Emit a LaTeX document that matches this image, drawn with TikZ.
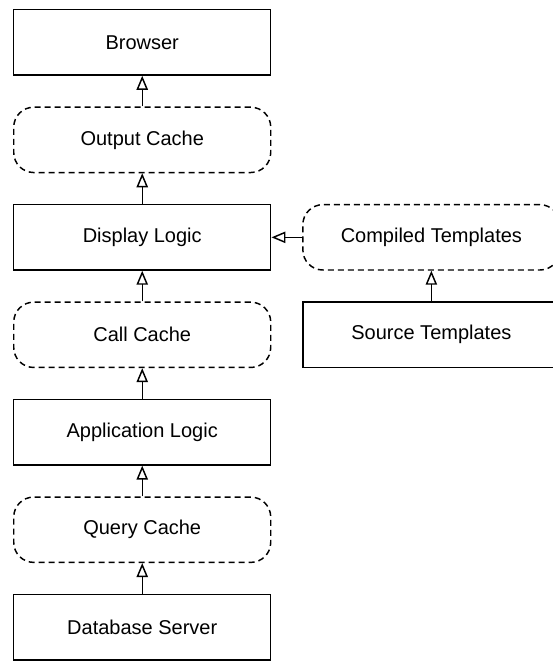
\documentclass[tikz,border=0pt]{standalone}
\usepackage{fontspec}
\setmainfont{Liberation Sans}
\usetikzlibrary{arrows.meta,positioning}

\begin{document}
\begin{tikzpicture}[node distance=23pt and 23pt,
    layer/.style={draw,line width=1.1pt,minimum width=192.75pt,minimum height=49pt,
                  inner sep=0pt,font=\fontsize{15}{18}\selectfont},
    cache/.style={layer,dash pattern=on 4.5pt off 3pt,rounded corners=15pt},
    feed/.style={line width=1.1pt,-{Triangle[open,length=10.5pt,width=8.5pt]}}]
    \useasboundingbox (0,0) rectangle (414.75pt,-495.75pt);
    \clip (0,0) rectangle (414.75pt,-495.75pt);
    \node[layer,anchor=north west] (browser) at (9.75pt,-6.75pt) {Browser};
    \node[cache,below=of browser] (outcache) {Output Cache};
    \node[layer,below=of outcache] (display) {Display Logic};
    \node[cache,below=of display] (callcache) {Call Cache};
    \node[layer,below=of callcache] (applogic) {Application Logic};
    \node[cache,below=of applogic] (querycache) {Query Cache};
    \node[layer,below=of querycache] (dbserver) {Database Server};
    \node[cache,right=of display] (compiled) {Compiled Templates};
    \node[layer,below=of compiled] (source) {Source Templates};
    \draw[feed] (outcache) -- (browser);
    \draw[feed] (display) -- (outcache);
    \draw[feed] (callcache) -- (display);
    \draw[feed] (applogic) -- (callcache);
    \draw[feed] (querycache) -- (applogic);
    \draw[feed] (dbserver) -- (querycache);
    \draw[feed] (compiled) -- (display);
    \draw[feed] (source) -- (compiled);
\end{tikzpicture}
\end{document}
